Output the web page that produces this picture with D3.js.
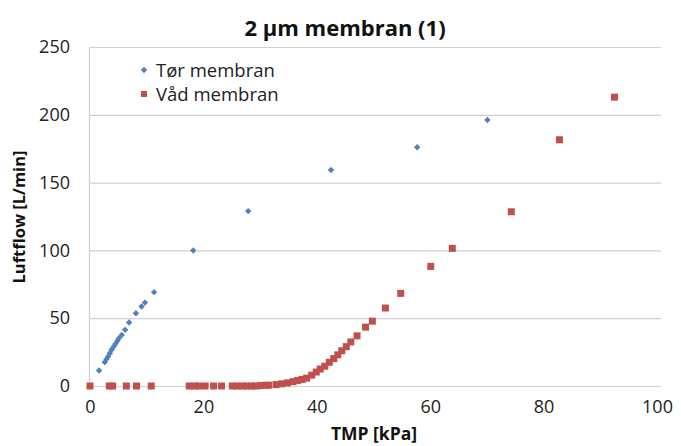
<!DOCTYPE html>
<html><head><meta charset="utf-8">
<script src="https://cdn.jsdelivr.net/npm/d3@7/dist/d3.min.js"></script>
<style>body{margin:0;background:#fff}text{font-family:"Open Sans",sans-serif}</style>
</head><body><svg id="c" width="681" height="446"></svg>
<script>
const title = "2 µm membran (1)";
const xTitle = "TMP [kPa]";
const yTitle = "Luftflow [L/min]";
const seriesNames = ["Tør membran", "Våd membran"];
const xTicks = [0, 20, 40, 60, 80, 100];
const yTicks = [0, 50, 100, 150, 200, 250];
const torX = [1.6,2.6,2.9,3.2,3.5,3.8,4.2,4.5,4.85,5.1,5.6,6.2,6.9,8.1,9.1,9.7,11.3,18.2,27.9,42.5,57.7,70.1];
const torY = [11.4,17.6,19.8,21.7,24.2,26.7,29.1,31.1,33.3,35.3,37.7,41.4,46.8,53.7,58.6,61.5,69.2,99.9,129,159.3,176.1,196.2];
const vadX = [0,3.4,4.0,6.4,8.2,10.8,17.5,18.4,19.2,20.3,21.8,23.2,25.1,26.0,26.9,27.7,28.5,29.3,30.1,30.9,31.5,32.8,33.8,34.8,35.8,36.6,37.4,38.2,39.1,39.9,40.6,41.4,42.2,43.0,43.7,44.4,45.2,46.0,47.1,48.6,49.8,52.1,54.8,60.1,63.9,74.3,82.8,92.5];
const vadY = [0,0,0,0,0,0,0,0,0,0,0,0,0,0,0,0,0,0,0.3,0.5,0.6,1.0,1.6,2.3,3.2,4.0,4.8,5.8,8.0,10.3,12.5,14.6,17.5,20.2,23.0,26.0,29.0,32.5,37,43.4,47.8,57.5,68.3,88.2,101.5,128.5,181.6,213];

const svg = d3.select("#c");
const x = d3.scaleLinear().domain([0,100]).range([90,657]);
const y = d3.scaleLinear().domain([0,250]).range([386,47]);
const blue = "#4F81BD", red = "#C0504D";

// gridlines
svg.append("g").selectAll("line").data(yTicks).join("line")
  .attr("x1", x(0)).attr("x2", x(100)+4)
  .attr("y1", d=>y(d)+0.5).attr("y2", d=>y(d)+0.5)
  .attr("stroke", "#D0D0D0").attr("stroke-width", 1.2);
svg.append("line").attr("x1", x(0)-0.5).attr("x2", x(0)-0.5).attr("y1", y(250)).attr("y2", y(0))
  .attr("stroke", "#D0D0D0").attr("stroke-width", 1.2);

// axes labels
const xa = svg.append("g").attr("transform", `translate(0,${y(0)})`)
  .call(d3.axisBottom(x).tickValues(xTicks).tickSize(0).tickPadding(14));
xa.select(".domain").remove();
xa.selectAll("text").attr("font-size", 18).attr("fill", "#222").attr("font-family", "Open Sans");
const ya = svg.append("g").attr("transform", `translate(${x(0)},0)`)
  .call(d3.axisLeft(y).tickValues(yTicks).tickSize(0).tickPadding(20));
ya.select(".domain").remove();
ya.selectAll("text").attr("font-size", 18).attr("fill", "#222").attr("font-family", "Open Sans");

// titles
svg.append("text").attr("x", 345).attr("y", 36).attr("text-anchor", "middle")
  .attr("font-size", 22).attr("font-weight", "bold").attr("fill", "#111").text(title);
svg.append("text").attr("x", 374).attr("y", 440).attr("text-anchor", "middle")
  .attr("font-size", 17.5).attr("font-weight", "bold").attr("fill", "#111").text(xTitle);
svg.append("text").attr("transform", "translate(25,217) rotate(-90)").attr("text-anchor", "middle")
  .attr("font-size", 16.5).attr("font-weight", "bold").attr("fill", "#111").text(yTitle);

// data
const diamond = d3.symbol().type(d3.symbolDiamond2).size(26);
const tor = torX.map((v,i)=>[v, torY[i]]);
const vad = vadX.map((v,i)=>[v, vadY[i]]);
svg.append("g").selectAll("rect").data(vad).join("rect")
  .attr("x", d=>x(d[0])-3.5).attr("y", d=>y(d[1])-3.5).attr("width", 7).attr("height", 7).attr("fill", red);
svg.append("g").selectAll("path").data(tor).join("path")
  .attr("transform", d=>`translate(${x(d[0])},${y(d[1])})`).attr("d", diamond).attr("fill", blue);

// legend
svg.append("path").attr("transform", "translate(144,70)").attr("d", diamond).attr("fill", blue);
svg.append("text").attr("x", 156).attr("y", 77).attr("font-size", 18.5).attr("fill", "#222").text(seriesNames[0]);
svg.append("rect").attr("x", 141).attr("y", 91).attr("width", 6).attr("height", 6).attr("fill", red);
svg.append("text").attr("x", 156).attr("y", 101).attr("font-size", 18.5).attr("fill", "#222").text(seriesNames[1]);
</script></body></html>
